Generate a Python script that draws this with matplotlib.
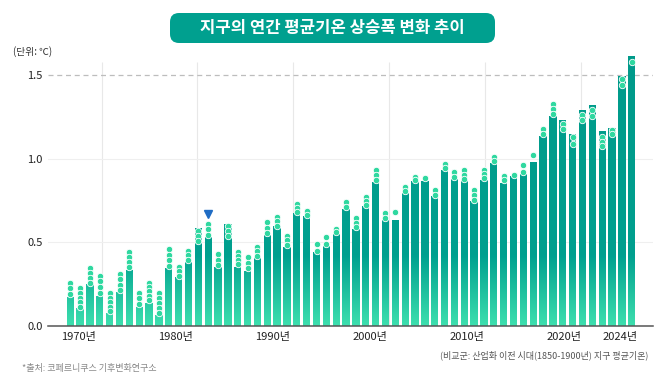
import numpy as np
import matplotlib
matplotlib.use('Agg')
import matplotlib.pyplot as plt
from matplotlib.colors import LinearSegmentedColormap
from matplotlib.patches import FancyBboxPatch
from matplotlib.path import Path

plt.rcParams['font.family'] = ['Noto Sans CJK KR', 'DejaVu Sans']

# 데이터 (산업화 이전 대비 지구 연평균 기온 상승폭, ℃)
years = list(range(1967, 2025))
anomaly = [0.175, 0.105, 0.25, 0.18, 0.078, 0.205, 0.335, 0.115, 0.138, 0.066,
           0.345, 0.29, 0.385, 0.585, 0.535, 0.355, 0.61, 0.355, 0.33, 0.41,
           0.545, 0.595, 0.475, 0.675, 0.66, 0.445, 0.48, 0.55, 0.70, 0.58,
           0.715, 0.86, 0.635, 0.635, 0.795, 0.865, 0.865, 0.775, 0.93, 0.88,
           0.87, 0.745, 0.875, 0.975, 0.855, 0.895, 0.91, 0.98, 1.135, 1.255,
           1.23, 1.15, 1.29, 1.32, 1.165, 1.185, 1.495, 1.615]
dot_hi = [0.26, 0.225, 0.345, 0.30, 0.195, 0.31, 0.44, 0.20, 0.26, 0.195,
          0.46, 0.355, 0.45, 0.565, 0.61, 0.43, 0.60, 0.445, 0.41, 0.475,
          0.62, 0.65, 0.54, 0.73, 0.685, 0.49, 0.53, 0.58, 0.74, 0.645,
          0.77, 0.93, 0.675, 0.68, 0.83, 0.89, 0.885, 0.815, 0.97, 0.92,
          0.93, 0.815, 0.935, 1.01, 0.895, 0.905, 0.96, 1.02, 1.175, 1.33,
          1.205, 1.13, 1.26, 1.29, 1.13, 1.17, 1.475, 1.58]
dot_lo = [0.19, 0.115, 0.26, 0.20, 0.09, 0.215, 0.35, 0.13, 0.155, 0.08,
          0.36, 0.30, 0.395, 0.51, 0.545, 0.365, 0.54, 0.37, 0.345, 0.42,
          0.555, 0.60, 0.485, 0.68, 0.665, 0.45, 0.49, 0.56, 0.71, 0.59,
          0.725, 0.87, 0.645, 0.675, 0.805, 0.87, 0.875, 0.785, 0.945, 0.89,
          0.88, 0.755, 0.885, 0.985, 0.87, 0.905, 0.92, 1.02, 1.145, 1.265,
          1.18, 1.085, 1.23, 1.255, 1.075, 1.145, 1.44, 1.58]
marker_year, marker_value = 1981, 0.67

tick_years = [1970, 1980, 1990, 2000, 2010, 2020, 2024]
tick_labels = ['1970년', '1980년', '1990년', '2000년', '2010년', '2020년', '2024년']
ytick_vals = [0.0, 0.5, 1.0, 1.5]

# 스타일
teal = '#00a08f'
light = '#3ddfae'
dot_col = '#2fd8a0'
bar_w = 0.74
x_min, x_max = 1964.74, 2026.16
y_top = 1.62

fig = plt.figure(figsize=(6.6, 3.85), dpi=100)
ax = fig.add_axes([48 / 660, 59 / 385, 605 / 660, 271 / 385])

# 막대 (아래 연두 -> 위 청록 그라데이션)
verts, codes = [], []
for x, h in zip(years, anomaly):
    x0 = x - bar_w / 2
    verts += [(x0, 0), (x0 + bar_w, 0), (x0 + bar_w, h), (x0, h), (x0, 0)]
    codes += [Path.MOVETO, Path.LINETO, Path.LINETO, Path.LINETO, Path.CLOSEPOLY]
clip = Path(verts, codes)
cmap = LinearSegmentedColormap.from_list('g', [(0, light), (0.42 / 1.65, teal), (1, '#009a8a')])
grad = np.linspace(0, 1, 256).reshape(-1, 1)
im = ax.imshow(grad, cmap=cmap, extent=[x_min, x_max, 0, 1.65], origin='lower',
               aspect='auto', zorder=2, interpolation='bilinear')
im.set_clip_path(clip, ax.transData)

# 점 (상단 동그라미)
dx, dy = [], []
for x, hi, lo in zip(years, dot_hi, dot_lo):
    n = max(1, int(round((hi - lo) / 0.03)) + 1)
    ys = np.linspace(hi, lo, n)
    dx += [x] * n
    dy += list(ys)
ax.plot(dx, dy, 'o', ms=4.6, mfc=dot_col, mec='white', mew=0.6, zorder=4, clip_on=False)
ax.plot([marker_year], [marker_value], 'v', ms=5.5, color='#1f6cc4', zorder=5, clip_on=False)

# 격자
grid_shift = [0.2, -0.1, -0.4, -0.6, -0.9, -1.1]
for yr, s in zip(tick_years[:-1], grid_shift):
    ax.vlines(yr + s, 0, 1.58, color='#e8e8e8', lw=0.8, zorder=0)
for v in [0.5, 1.0]:
    ax.axhline(v, color='#efefef', lw=0.8, zorder=0)
ax.axhline(1.5, color='#bdbdbd', lw=0.9, dashes=(4, 3), zorder=1)

ax.set_xlim(x_min, x_max)
ax.set_ylim(0, y_top)
for s in ['top', 'right', 'left']:
    ax.spines[s].set_visible(False)
ax.spines['bottom'].set_color('#555555')
ax.spines['bottom'].set_linewidth(1.1)
ax.spines['bottom'].set_zorder(6)

label_shift = [2.2, 2.3, 2.5, 2.6, 2.75, 2.9, 1.2]
ax.set_xticks([y - s for y, s in zip(tick_years, label_shift)])
ax.set_xticklabels(tick_labels, fontsize=8, color='#222222')
ax.set_yticks(ytick_vals)
ax.set_yticklabels([f'{v:.1f}' for v in ytick_vals], fontsize=8, color='#222222')
ax.tick_params(axis='both', length=0)
ax.tick_params(axis='x', pad=4)
ax.tick_params(axis='y', pad=4)

# 제목 박스
box = FancyBboxPatch((1.70, 3.42), 3.25, 0.30, boxstyle='round,pad=0,rounding_size=0.09',
                     transform=fig.dpi_scale_trans, fc=teal, ec='none')
fig.patches.append(box)
fig.text(332 / 660, 1 - 28 / 385, '지구의 연간 평균기온 상승폭 변화 추이', ha='center', va='center',
         fontsize=12, fontweight='bold', color='white')

fig.text(13 / 660, 1 - 52 / 385, '(단위: ℃)', ha='left', va='center', fontsize=7, color='#333333')
fig.text(648 / 660, 1 - 355 / 385, '(비교군: 산업화 이전 시대(1850-1900년) 지구 평균기온)',
         ha='right', va='center', fontsize=6.5, color='#555555')
fig.text(22 / 660, 1 - 368 / 385, '*출처: 코페르니쿠스 기후변화연구소', ha='left', va='center',
         fontsize=6.5, color='#888888')

fig.savefig('out.png', dpi=100)
